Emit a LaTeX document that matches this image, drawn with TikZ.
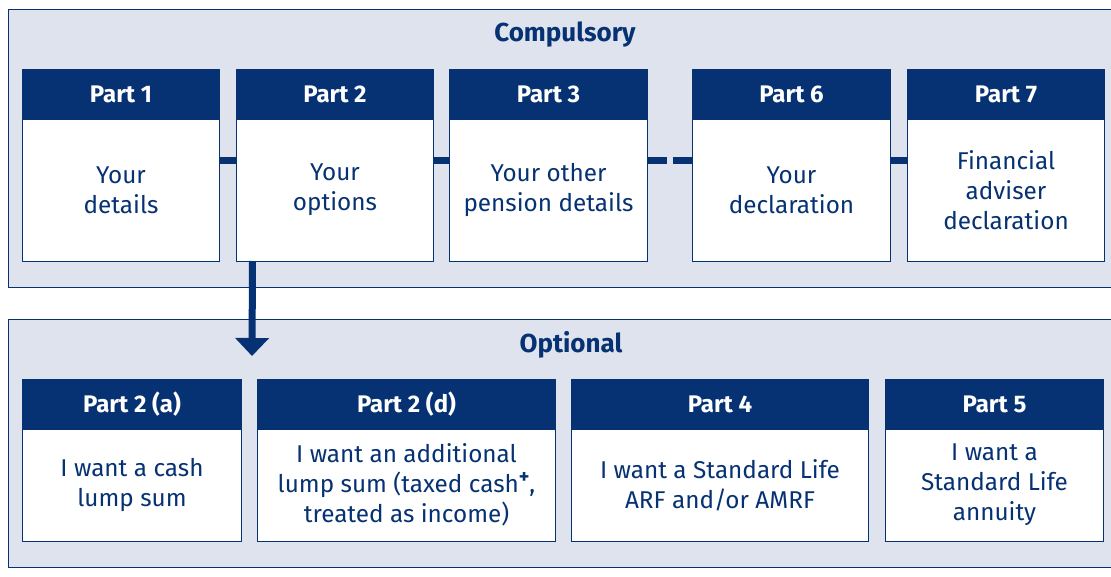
\documentclass[tikz,border=0pt]{standalone}
\usepackage{fontspec}
\setmainfont{Fira Sans}
\usepackage{tikz}
\usetikzlibrary{positioning,arrows.meta}
\definecolor{slnavy}{RGB}{6,50,115}
\definecolor{slpanel}{RGB}{223,227,238}
\newcommand{\supplus}{\raisebox{0.38em}{\fontsize{20}{20}\selectfont\bfseries +}}

\begin{document}
\begin{tikzpicture}[x=1pt,y=-1pt,
  panel/.style={fill=slpanel, draw=slnavy, line width=1pt},
  paneltitle/.style={text=slnavy, inner sep=0pt, font=\fontsize{26}{30}\selectfont\bfseries},
  parthead/.style={fill=slnavy, text=white, minimum height=50pt, inner sep=0pt, outer sep=0pt, font=\fontsize{24}{30}\selectfont\bfseries},
  partbody/.style={fill=white, draw=slnavy, line width=0.8pt, text=slnavy, align=center, inner sep=0pt, outer sep=0pt, font=\fontsize{24.3}{30}\selectfont},
  link/.style={draw=slnavy, line width=7pt},
]
\useasboundingbox (0,0) rectangle (1111,576);
\clip (0,0) rectangle (1111,576);

% panels
\draw[panel] (8,9) rectangle (1130,287);
\draw[panel] (8,319) rectangle (1130,567);
\node[paneltitle] (comp) at (565,35) {Compulsory};
\node[paneltitle] (opt) at (571,345) {Optional};

% compulsory parts
\node[parthead, minimum width=198pt] (h1) at (121,94) {Part 1};
\node[parthead, minimum width=198pt, right=16pt of h1] (h2) {Part 2};
\node[parthead, minimum width=199pt, right=15pt of h2] (h3) {Part 3};
\node[parthead, minimum width=199pt, right=44pt of h3] (h6) {Part 6};
\node[parthead, minimum width=198pt, right=16pt of h6] (h7) {Part 7};

\node[partbody, minimum width=197pt, minimum height=142pt, below=0pt of h1] (b1) {Your\\details};
\node[partbody, minimum width=197pt, minimum height=142pt, below=0pt of h2] (b2) {Your\\options};
\node[partbody, minimum width=198pt, minimum height=142pt, below=0pt of h3] (b3) {Your other\\pension details};
\node[partbody, minimum width=198pt, minimum height=142pt, below=0pt of h6] (b6) {Your\\declaration};
\node[partbody, minimum width=197pt, minimum height=142pt, below=0pt of h7] (b7) {Financial\\adviser\\declaration};

% optional parts
\node[parthead, minimum width=220pt] (h2a) at (132,404) {Part 2 (a)};
\node[parthead, minimum width=299pt, right=15pt of h2a] (h2d) {Part 2 (d)};
\node[parthead, minimum width=298pt, right=15pt of h2d] (h4) {Part 4};
\node[parthead, minimum width=219pt, right=16pt of h4] (h5) {Part 5};

\node[partbody, minimum width=219pt, minimum height=112pt, below=0pt of h2a] (b2a) {I want a cash\\lump sum};
\node[partbody, minimum width=298pt, minimum height=112pt, below=0pt of h2d] (b2d) {I want an additional\\lump sum (taxed cash\supplus,\\treated as income)};
\node[partbody, minimum width=297pt, minimum height=112pt, below=0pt of h4] (b4) {I want a Standard Life\\ARF and/or AMRF};
\node[partbody, minimum width=218pt, minimum height=112pt, below=0pt of h5] (b5) {I want a\\Standard Life\\annuity};

% links
\draw[link] ([yshift=-41pt]b1.north east) -- ([yshift=-41pt]b2.north west);
\draw[link] ([yshift=-41pt]b2.north east) -- ([yshift=-41pt]b3.north west);
\draw[link, dash pattern=on 19pt off 6pt] ([yshift=-41pt]b3.north east) -- ([yshift=-41pt]b6.north west);
\draw[link] ([yshift=-41pt]b6.north east) -- ([yshift=-41pt]b7.north west);

\coordinate (tip) at (252,356);
\draw[link, -{Triangle[width=33pt,length=18pt]}] ([xshift=16pt]b2.south west) -- (tip);
\end{tikzpicture}
\end{document}
